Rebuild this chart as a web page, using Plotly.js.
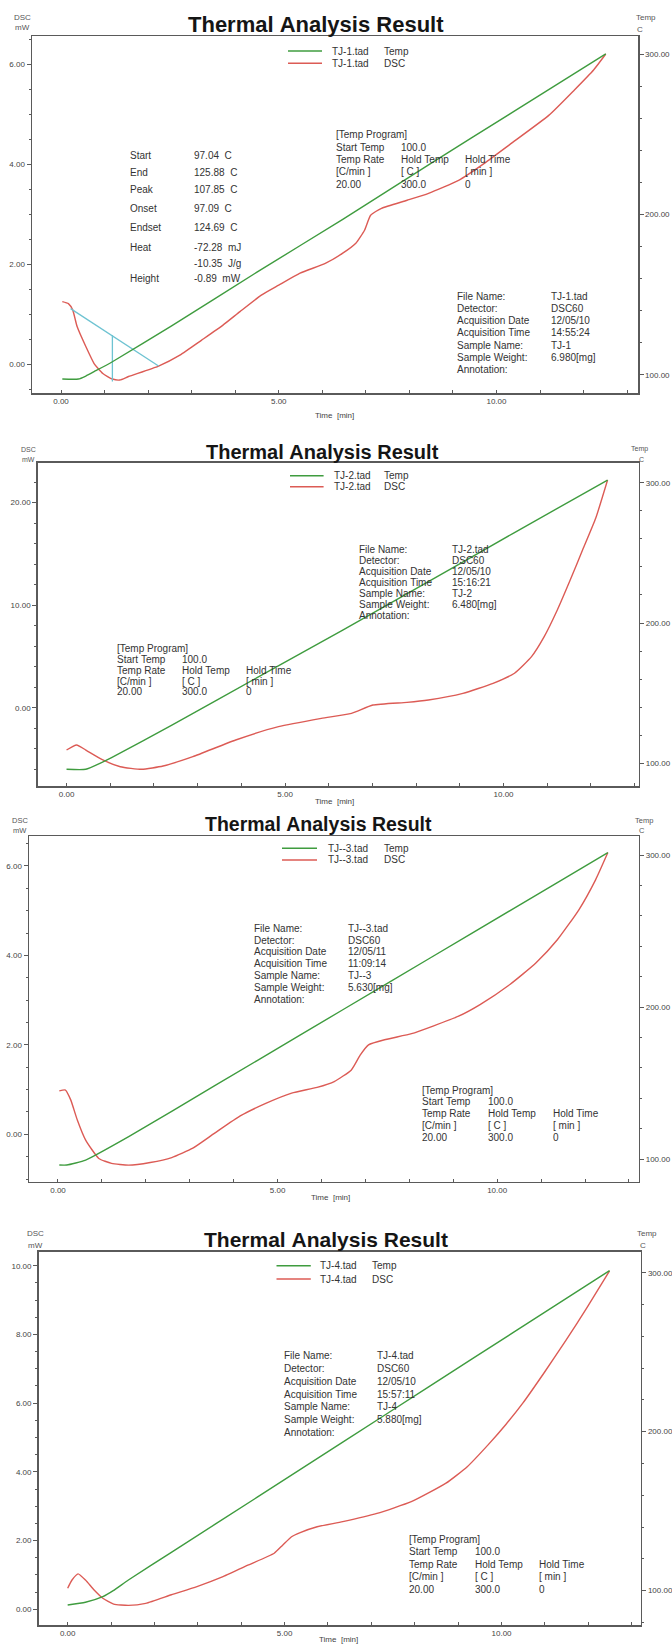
<!DOCTYPE html>
<html>
<head>
<meta charset="utf-8">
<script src="https://cdn.plot.ly/plotly-3.0.1.min.js"></script>
<style>html,body{margin:0;padding:0;background:#fff;}#chart{width:672px;height:1646px;}</style>
</head>
<body>
<div id="chart"></div>
<script>
// ---------------- DATA ----------------
// TJ-1
const tj1Time = [0.03,0.17,0.27,0.37,0.57,0.76,0.96,1.18,1.35,1.55,2.24,2.73,3.23,3.72,4.11,4.60,5.00,5.49,6.08,6.47,6.77,6.97,7.11,7.36,7.95,8.44,9.13,9.72,10.31,11.20,11.79,12.23,12.51];
const tj1Dsc  = [1.25,1.21,1.08,0.75,0.35,0.01,-0.19,-0.30,-0.32,-0.25,-0.04,0.18,0.48,0.78,1.05,1.38,1.58,1.82,2.02,2.22,2.42,2.68,2.98,3.12,3.28,3.42,3.68,4.02,4.40,4.98,5.49,5.89,6.21];
const tj1TempTime = [0.03,0.40,0.57,0.80,1.18,2.54,4.50,6.47,8.44,10.41,12.51];
const tj1Temp     = [97.3,97.3,99.2,102.5,108.1,130.5,164.0,197.0,231.0,264.5,300.2];
const tj1BaseTime = [0.22,2.24];
const tj1BaseDsc  = [1.11,-0.04];
const tj1PeakTime = [1.18,1.18];
const tj1PeakDsc  = [0.58,-0.35];
// TJ-2
const tj2Time = [0,0.23,0.44,0.83,1.23,1.72,2.21,2.89,3.87,4.85,5.83,6.52,7.01,7.79,8.28,9.07,9.76,10.25,10.64,10.93,11.23,11.52,11.81,12.11,12.38];
const tj2Dsc  = [-4.13,-3.64,-4.13,-5.10,-5.76,-6.01,-5.69,-4.78,-3.15,-1.85,-1.04,-0.55,0.26,0.52,0.75,1.40,2.38,3.36,4.98,6.93,9.53,12.40,15.40,18.50,22.21];
const tj2TempTime = [0,0.44,0.80,1.03,2.40,4.36,6.32,8.28,10.25,12.38];
const tj2Temp     = [95.7,95.7,100.5,104.0,127.0,161.0,195.0,229.5,264.5,301.9];
// TJ--3
const tj3Time = [0.03,0.17,0.29,0.44,0.63,0.93,1.22,1.61,2.10,2.59,3.07,3.56,4.15,4.73,5.32,5.90,6.29,6.68,6.88,7.07,7.46,8.05,8.54,9.12,9.61,10.29,10.88,11.37,11.86,12.24,12.52];
const tj3Dsc  = [0.97,0.99,0.77,0.32,-0.13,-0.54,-0.65,-0.69,-0.63,-0.52,-0.31,0.02,0.41,0.69,0.92,1.05,1.18,1.44,1.77,2.00,2.12,2.25,2.42,2.64,2.90,3.35,3.83,4.35,5.02,5.69,6.30];
const tj3TempTime = [0.03,0.20,0.63,1.61,3.56,5.51,7.46,9.41,11.37,12.52];
const tj3Temp     = [96.1,96.1,99.3,114.7,148.1,181.5,214.9,248.3,281.8,301.5];
// TJ-4
const tj4Time = [0,0.10,0.24,0.41,0.61,0.81,1.06,1.40,1.80,2.39,2.98,3.58,4.17,4.76,4.96,5.16,5.36,5.75,6.34,7.13,7.92,8.72,9.21,9.70,10.10,10.49,10.99,11.48,11.98,12.49];
const tj4Dsc  = [0.61,0.85,1.03,0.85,0.56,0.32,0.15,0.11,0.17,0.42,0.66,0.95,1.29,1.63,1.87,2.11,2.23,2.40,2.55,2.79,3.13,3.67,4.15,4.80,5.38,6.00,6.90,7.82,8.80,9.85];
const tj4TempTime = [0,0.41,0.81,1.05,1.40,2.39,4.37,6.34,8.32,10.30,12.49];
const tj4Temp     = [91.0,92.7,96.2,100.0,106.7,124.1,158.8,193.4,228.2,262.9,301.3];

// text content
const chartTitle = 'Thermal Analysis Result';
const fileNames = ['TJ-1.tad','TJ-2.tad','TJ--3.tad','TJ-4.tad'];
const infoLabels = ['File Name:','Detector:','Acquisition Date','Acquisition Time','Sample Name:','Sample Weight:','Annotation:'];
const infoValues = [
  ['TJ-1.tad','DSC60','12/05/10','14:55:24','TJ-1','6.980[mg]',''],
  ['TJ-2.tad','DSC60','12/05/10','15:16:21','TJ-2','6.480[mg]',''],
  ['TJ--3.tad','DSC60','12/05/11','11:09:14','TJ--3','5.630[mg]',''],
  ['TJ-4.tad','DSC60','12/05/10','15:57:11','TJ-4','5.880[mg]','']
];
const progRows = [
  ['[Temp Program]','',''],
  ['Start Temp','100.0',''],
  ['Temp Rate','Hold Temp','Hold Time'],
  ['[C/min ]','[ C ]','[ min ]'],
  ['20.00','300.0','0']
];
const peakLabels = ['Start','End','Peak','Onset','Endset','Heat','','Height'];
const peakValues = ['97.04  C','125.88  C','107.85  C','97.09  C','124.69  C','-72.28  mJ','-10.35  J/g','-0.89  mW'];

// ---------------- LAYOUT ----------------
const W = 672, H = 1646;
const FONT = 'Liberation Sans, Arial, sans-serif';
const GREEN = '#3f9c3f', RED = '#dc5b55', BLUE = '#6ec3d2', FRAME = '#5a5a5a', TXT = '#333333';
const nb = s => s.replace(/ /g, '\u00a0');
const px = x => x / W;
const py = y => 1 - y / H;

const panels = [
  {l:32, r:638, t:36, b:393, xr:[-0.666,13.25], yr:[-0.58,6.57], y2r:[88.6,311.4], ydt:2, ymin:0.5,
   title:{x:316,y:24,s:22}, dsc:{x:22,y1:17,y2:27,s:8}, tmp:{x:646,xc:640,y1:18,y2:30,s:8},
   time:{x:334,y:415}, leg:{x0:288,x1:322,ya:51,yb:63.3,tx:330,tx2:381.5},
   info:{x0:455,x1:549,y0:296,dy:12.3}, prog:{xs:[333.5,398.6,463],y0:135,dy:12.3}},
  {l:37.7, r:638.6, t:462.7, b:786, xr:[-0.66,13.09], yr:[-7.64,23.9], y2r:[83.8,314.3], ydt:10, ymin:2,
   title:{x:322,y:452,s:20}, dsc:{x:28,y1:449.3,y2:459.3,s:7}, tmp:{x:639,xc:641.6,y1:449.3,y2:459.3,s:7},
   time:{x:334,y:801.7}, leg:{x0:290,x1:323.6,ya:475.7,yb:486.7,tx:332,tx2:381.5},
   info:{x0:356.6,x1:450,y0:549.3,dy:11}, prog:{xs:[114.9,180,243.5],y0:648.3,dy:10.9}},
  {l:29, r:638.6, t:836, b:1181.7, xr:[-0.66,13.22], yr:[-1.06,6.67], y2r:[85.1,312.5], ydt:2, ymin:0.5,
   title:{x:318,y:824.5,s:19.5}, dsc:{x:20,y1:820,y2:830.7,s:7.5}, tmp:{x:644,xc:641.6,y1:820,y2:830,s:7.5},
   time:{x:330,y:1197}, leg:{x0:282,x1:317,ya:848.3,yb:860,tx:325.8,tx2:381.5},
   info:{x0:252,x1:346.3,y0:928.3,dy:11.8}, prog:{xs:[420,485.6,550.8],y0:1090,dy:11.9}},
  {l:38.6, r:640.8, t:1251.7, b:1625, xr:[-0.67,13.21], yr:[-0.46,10.41], y2r:[78.4,313.2], ydt:2, ymin:0.5,
   title:{x:326,y:1239,s:21}, dsc:{x:35,y1:1233.3,y2:1245,s:8}, tmp:{x:647,xc:643,y1:1233,y2:1245,s:8},
   time:{x:338.6,y:1639}, leg:{x0:276.5,x1:310.8,ya:1265.7,yb:1279,tx:318,tx2:369.5},
   info:{x0:281.6,x1:375,y0:1355.7,dy:12.8}, prog:{xs:[407.2,472.8,536.6],y0:1539.3,dy:12.5}}
];

const series = [
  {t:tj1Time, d:tj1Dsc, tt:tj1TempTime, T:tj1Temp},
  {t:tj2Time, d:tj2Dsc, tt:tj2TempTime, T:tj2Temp},
  {t:tj3Time, d:tj3Dsc, tt:tj3TempTime, T:tj3Temp},
  {t:tj4Time, d:tj4Dsc, tt:tj4TempTime, T:tj4Temp}
];

const data = [];
const layout = {
  width: W, height: H, margin:{l:0,r:0,t:0,b:0},
  paper_bgcolor:'#fff', plot_bgcolor:'#fff', showlegend:false,
  font:{family:FONT, color:TXT},
  annotations:[], shapes:[]
};

function ann(x, y, text, size, opts) {
  layout.annotations.push(Object.assign({
    xref:'paper', yref:'paper', x:px(x), y:py(y), text:nb(text), showarrow:false,
    xanchor:'left', yanchor:'middle', font:{family:FONT, size:size, color:TXT}
  }, opts || {}));
}

panels.forEach((p, k) => {
  const xs = k === 0 ? '' : String(k+1);
  const yl = 2*k+1, yr = 2*k+2;
  const ylId = yl === 1 ? '' : String(yl);
  const axisLine = {showline:true, linecolor:FRAME, linewidth:1.5, showgrid:false, zeroline:false};
  layout['xaxis'+xs] = Object.assign({}, axisLine, {
    domain:[px(p.l), px(p.r)], range:p.xr, anchor:'y'+ylId, mirror:true,
    ticks:'inside', ticklen:3, tickcolor:FRAME, tickwidth:1, tick0:0, dtick:5, tickformat:'.2f',
    tickfont:{family:FONT, size:8, color:'#444'},
    minor:{dtick:1, tick0:0, ticks:'inside', ticklen:3, tickcolor:FRAME, showgrid:false}
  });
  layout['yaxis'+ylId] = Object.assign({}, axisLine, {
    domain:[py(p.b), py(p.t)], range:p.yr, anchor:'x'+xs, side:'left',
    ticks:'outside', ticklen:4, tickcolor:FRAME, tickwidth:1, tick0:0, dtick:p.ydt, tickformat:'.2f',
    tickfont:{family:FONT, size:8, color:'#444'},
    minor:{dtick:p.ymin, tick0:0, ticks:'outside', ticklen:2, tickcolor:FRAME, showgrid:false}
  });
  layout['yaxis'+yr] = Object.assign({}, axisLine, {
    domain:[py(p.b), py(p.t)], range:p.y2r, anchor:'x'+xs, overlaying:'y'+ylId, side:'right',
    ticks:'outside', ticklen:4, tickcolor:FRAME, tickwidth:1, tick0:0, dtick:100, tickformat:'.2f',
    tickfont:{family:FONT, size:8, color:'#444'},
    minor:{dtick:20, tick0:0, ticks:'outside', ticklen:2, tickcolor:FRAME, showgrid:false}
  });

  const s = series[k];
  data.push({x:s.tt, y:s.T, xaxis:'x'+xs, yaxis:'y'+yr, type:'scatter', mode:'lines',
             line:{color:GREEN, width:1.4, shape:'spline', smoothing:0.5}, hoverinfo:'skip'});
  data.push({x:s.t, y:s.d, xaxis:'x'+xs, yaxis:'y'+ylId, type:'scatter', mode:'lines',
             line:{color:RED, width:1.4, shape:'spline', smoothing:0.5}, hoverinfo:'skip'});
  if (k === 0) {
    data.push({x:tj1BaseTime, y:tj1BaseDsc, xaxis:'x', yaxis:'y', type:'scatter', mode:'lines',
               line:{color:BLUE, width:1.3}, hoverinfo:'skip'});
    data.push({x:tj1PeakTime, y:tj1PeakDsc, xaxis:'x', yaxis:'y', type:'scatter', mode:'lines',
               line:{color:BLUE, width:1.3}, hoverinfo:'skip'});
  }

  // titles and axis captions
  ann(p.title.x, p.title.y, chartTitle, p.title.s, {xanchor:'center', font:{family:FONT, size:p.title.s, color:'#151515', weight:'bold'}});
  ann(p.dsc.x, p.dsc.y1, 'DSC', p.dsc.s, {xanchor:'center', font:{family:FONT, size:p.dsc.s, color:'#555'}});
  ann(p.dsc.x, p.dsc.y2, 'mW', p.dsc.s, {xanchor:'center', font:{family:FONT, size:p.dsc.s, color:'#555'}});
  ann(p.tmp.x, p.tmp.y1, 'Temp', p.tmp.s, {xanchor:'center', font:{family:FONT, size:p.tmp.s, color:'#555'}});
  ann(p.tmp.xc, p.tmp.y2, 'C', p.tmp.s, {xanchor:'center', font:{family:FONT, size:p.tmp.s, color:'#555'}});
  ann(p.time.x, p.time.y, 'Time  [min]', 8, {xanchor:'center', font:{family:FONT, size:8, color:'#444'}});

  // legend
  layout.shapes.push({type:'line', xref:'paper', yref:'paper', x0:px(p.leg.x0), x1:px(p.leg.x1), y0:py(p.leg.ya), y1:py(p.leg.ya), line:{color:GREEN, width:1.6}});
  layout.shapes.push({type:'line', xref:'paper', yref:'paper', x0:px(p.leg.x0), x1:px(p.leg.x1), y0:py(p.leg.yb), y1:py(p.leg.yb), line:{color:RED, width:1.6}});
  ann(p.leg.tx, p.leg.ya, fileNames[k], 10);
  ann(p.leg.tx2, p.leg.ya, 'Temp', 10);
  ann(p.leg.tx, p.leg.yb, fileNames[k], 10);
  ann(p.leg.tx2, p.leg.yb, 'DSC', 10);

  // file info block
  infoLabels.forEach((lab, i) => {
    const y = p.info.y0 + i*p.info.dy;
    ann(p.info.x0, y, lab, 10);
    if (infoValues[k][i]) ann(p.info.x1, y, infoValues[k][i], 10);
  });
  // temp program block
  progRows.forEach((row, i) => {
    const y = p.prog.y0 + i*p.prog.dy;
    row.forEach((txt, j) => { if (txt) ann(p.prog.xs[j], y, txt, 10); });
  });
});

// peak analysis block (TJ-1)
const peakY = [155,172.3,190,208.3,227.3,247.3,263.3,278.3];
peakLabels.forEach((lab, i) => {
  if (lab) ann(128, peakY[i], lab, 10);
  ann(191.7, peakY[i], peakValues[i], 10);
});

Plotly.newPlot('chart', data, layout, {staticPlot:true, displayModeBar:false});
</script>
</body>
</html>
